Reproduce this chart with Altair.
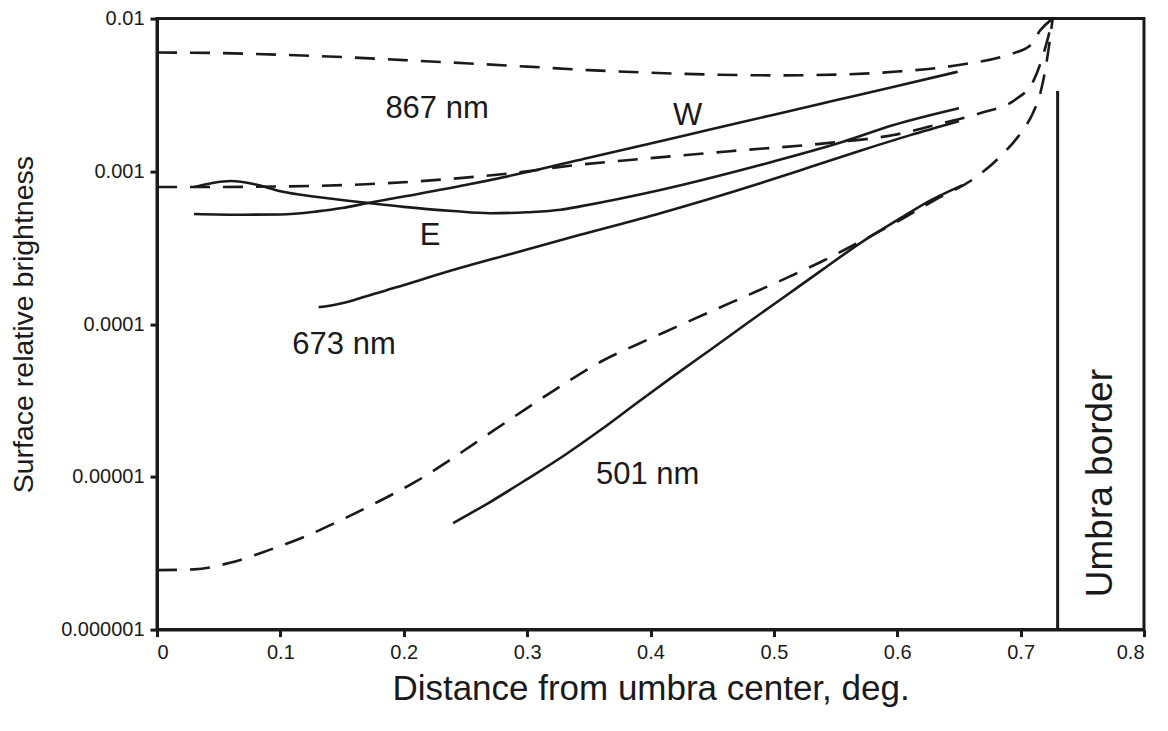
import altair as alt
import pandas as pd

# ---- data ----
d867_x = [0.0, 0.05, 0.1, 0.15, 0.2, 0.25, 0.3, 0.35, 0.4, 0.45, 0.5, 0.55, 0.6, 0.65, 0.69, 0.708, 0.716, 0.726]
d867_y = [6.0e-3, 5.95e-3, 5.8e-3, 5.6e-3, 5.35e-3, 5.1e-3, 4.85e-3, 4.6e-3, 4.42e-3, 4.3e-3, 4.25e-3, 4.3e-3, 4.5e-3, 4.97e-3, 5.8e-3, 6.7e-3, 8.4e-3, 1.0e-2]

d673_x = [0.0, 0.05, 0.1, 0.173, 0.25, 0.3, 0.327, 0.4, 0.462, 0.543, 0.597, 0.637, 0.667, 0.697, 0.71, 0.717, 0.721, 0.726]
d673_y = [7.9e-4, 7.9e-4, 7.96e-4, 8.26e-4, 9.1e-4, 1.0e-3, 1.07e-3, 1.22e-3, 1.35e-3, 1.53e-3, 1.73e-3, 2.07e-3, 2.4e-3, 3.0e-3, 3.85e-3, 5.36e-3, 6.9e-3, 1.0e-2]

d501_x = [0.0, 0.03, 0.06, 0.09, 0.12, 0.15, 0.18, 0.21, 0.24, 0.27, 0.30, 0.33, 0.36, 0.39, 0.42, 0.45, 0.48, 0.51, 0.54, 0.57, 0.60, 0.63, 0.663, 0.683, 0.70, 0.71, 0.716, 0.72, 0.723, 0.726]
d501_y = [2.45e-6, 2.48e-6, 2.75e-6, 3.3e-6, 4.07e-6, 5.25e-6, 6.92e-6, 9.33e-6, 1.33e-5, 1.94e-5, 2.82e-5, 4.06e-5, 5.69e-5, 7.41e-5, 9.51e-5, 1.22e-4, 1.56e-4, 2.0e-4, 2.6e-4, 3.47e-4, 4.68e-4, 6.46e-4, 9.06e-4, 1.24e-3, 1.78e-3, 2.41e-3, 3.26e-3, 4.61e-3, 6.6e-3, 1.0e-2]

w_x = [0.03, 0.07, 0.1, 0.13, 0.15, 0.17, 0.2, 0.25, 0.3, 0.35, 0.4, 0.45, 0.5, 0.55, 0.6, 0.649]
w_y = [5.26e-4, 5.2e-4, 5.22e-4, 5.47e-4, 5.75e-4, 6.18e-4, 6.84e-4, 8.13e-4, 9.89e-4, 1.227e-3, 1.524e-3, 1.892e-3, 2.35e-3, 2.917e-3, 3.62e-3, 4.49e-3]

e_x = [0.03, 0.045, 0.06, 0.08, 0.1, 0.13, 0.173, 0.2, 0.24, 0.27, 0.3, 0.327, 0.343, 0.408, 0.489, 0.556, 0.597, 0.65]
e_y = [7.9e-4, 8.4e-4, 8.65e-4, 8.2e-4, 7.4e-4, 6.8e-4, 6.18e-4, 5.85e-4, 5.5e-4, 5.32e-4, 5.4e-4, 5.6e-4, 5.9e-4, 7.55e-4, 1.1e-3, 1.56e-3, 2.01e-3, 2.59e-3]

s673_x = [0.131, 0.14, 0.16, 0.175, 0.194, 0.235, 0.289, 0.343, 0.408, 0.489, 0.53, 0.57, 0.61, 0.65]
s673_y = [1.29e-4, 1.32e-4, 1.44e-4, 1.57e-4, 1.74e-4, 2.2e-4, 2.91e-4, 3.84e-4, 5.32e-4, 8.36e-4, 1.07e-3, 1.365e-3, 1.72e-3, 2.13e-3]

s501_x = [0.24, 0.27, 0.30, 0.33, 0.36, 0.39, 0.42, 0.45, 0.48, 0.51, 0.54, 0.57, 0.60, 0.627, 0.653]
s501_y = [4.98e-6, 6.84e-6, 9.66e-6, 1.38e-5, 2.04e-5, 3.09e-5, 4.65e-5, 6.92e-5, 1.035e-4, 1.54e-4, 2.29e-4, 3.39e-4, 4.79e-4, 6.46e-4, 8.13e-4]

umbra_x = [0.73]
umbra_top = [3.36e-3]
umbra_bottom = [1e-6]

label_text = ["867 nm", "W", "E", "673 nm", "501 nm"]
label_x = [0.227, 0.430, 0.2213, 0.1516, 0.3977]
label_y = [2.57e-3, 2.31e-3, 3.79e-4, 7.31e-5, 1.03e-5]

border_text = ["Umbra border"]
border_x = [0.765]
border_y = [9.1e-6]

x_ticks = [0, 0.1, 0.2, 0.3, 0.4, 0.5, 0.6, 0.7, 0.8]
y_ticks = [1e-6, 1e-5, 1e-4, 1e-3, 1e-2]

# ---- tables ----
def series(name, xs, ys):
    return pd.DataFrame({"x": xs, "y": ys, "series": name})

dashed = pd.concat([
    series("867 model", d867_x, d867_y),
    series("673 model", d673_x, d673_y),
    series("501 model", d501_x, d501_y),
])
solid = pd.concat([
    series("W", w_x, w_y),
    series("E", e_x, e_y),
    series("673 nm", s673_x, s673_y),
    series("501 nm", s501_x, s501_y),
])
umbra = pd.DataFrame({"x": umbra_x, "y": umbra_top, "y2": umbra_bottom})
labels = pd.DataFrame({"x": label_x, "y": label_y, "t": label_text})
border = pd.DataFrame({"x": border_x, "y": border_y, "t": border_text})

INK = "#1a1a1a"
FONT = "Liberation Sans"

xscale = alt.Scale(domain=[0, 0.8], nice=False)
yscale = alt.Scale(type="log", domain=[1e-6, 1e-2], nice=False)

xenc = alt.X("x:Q", scale=xscale,
             axis=alt.Axis(values=x_ticks, format=".1~f", title="Distance from umbra center, deg.",
                           grid=False, titleFontSize=35, titlePadding=9))
yenc = alt.Y("y:Q", scale=yscale,
             axis=alt.Axis(values=y_ticks, format=".6~f", title="Surface relative brightness",
                           grid=False, titleFontSize=28.5, titlePadding=22))

dash_layer = alt.Chart(dashed).mark_line(
    interpolate="monotone", strokeDash=[20, 13], strokeWidth=2.6, color=INK
).encode(x=xenc, y=yenc, detail="series:N")

solid_layer = alt.Chart(solid).mark_line(
    interpolate="monotone", strokeWidth=2.6, color=INK
).encode(x="x:Q", y="y:Q", detail="series:N")

rule_layer = alt.Chart(umbra).mark_rule(strokeWidth=3, color=INK).encode(
    x="x:Q", y="y:Q", y2="y2:Q"
)

text_layer = alt.Chart(labels).mark_text(
    font=FONT, fontSize=31, color=INK, align="center", baseline="middle"
).encode(x="x:Q", y="y:Q", text="t:N")

border_layer = alt.Chart(border).mark_text(
    font=FONT, fontSize=37, color=INK, align="center", baseline="middle", angle=270
).encode(x="x:Q", y="y:Q", text="t:N")

chart = alt.layer(dash_layer, solid_layer, rule_layer, text_layer, border_layer).properties(
    width=987, height=611,
    autosize=alt.AutoSizeParams(type="none"),
    padding={"left": 149, "top": 10.6, "right": 16, "bottom": 85},
).configure_view(
    stroke=INK, strokeWidth=3
).configure_axis(
    domainColor=INK, domainWidth=3, tickColor=INK, tickWidth=3, tickSize=7,
    labelFont=FONT, labelFontSize=20, labelColor=INK, labelPadding=6,
    titleFont=FONT, titleColor=INK, titleFontWeight="normal",
)

chart.save("out.html", embed_options={"renderer": "svg", "actions": False})
